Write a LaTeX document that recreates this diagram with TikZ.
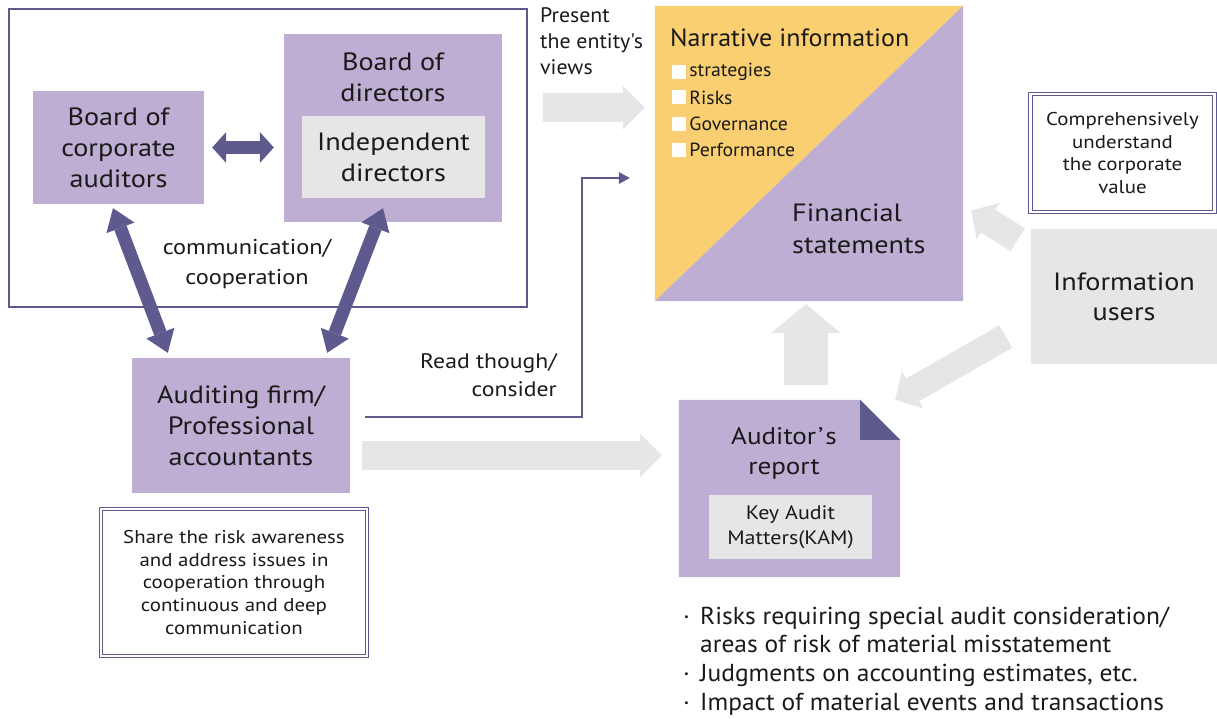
\documentclass[tikz,border=0pt]{standalone}
\usepackage{fontspec}
\setmainfont{PT Sans}[FakeStretch=1.13]
\newfontfamily\tightfont{PT Sans}[FakeStretch=1.04]
\usetikzlibrary{arrows.meta,calc}
\definecolor{lav}{HTML}{BFAED3}
\definecolor{dpur}{HTML}{5E5A8D}
\definecolor{lgray}{HTML}{E6E6E6}
\definecolor{ylw}{HTML}{F9CF72}
\definecolor{ink}{HTML}{1A1A1A}
\newcommand{\myfs}[2]{\fontsize{#1}{#2}\selectfont}
\begin{document}
\begin{tikzpicture}[x=1pt,y=-1pt,
  every node/.style={text=ink},
  box/.style={inner sep=0pt, align=center},
  lavbox/.style={box, fill=lav},
  graybox/.style={box, fill=lgray},
  dblbox/.style={box, draw=dpur, line width=0.9pt, double=white, double distance=2.6pt},
  big/.style={font=\myfs{25}{31}},
  small/.style={font=\myfs{18.5}{22.8}},
  garrow/.style={draw=lgray, -{Triangle[width=44pt,length=22pt,line width=0pt]}, line width=29pt},
  parrow/.style={draw=dpur, {Triangle[width=31pt,length=14pt,line width=0pt]}-{Triangle[width=31pt,length=14pt,line width=0pt]}, line width=12.5pt},
  darrow/.style={draw=dpur, {Triangle[width=30pt,length=21pt,line width=0pt]}-{Triangle[width=30pt,length=21pt,line width=0pt]}, line width=13pt},
  tarrow/.style={draw=dpur, line width=2pt, -{Triangle[width=12pt,length=11pt,line width=0pt]}},
  sq/.style={fill=white, minimum size=14pt, inner sep=0pt},
  item/.style={font=\tightfont\myfs{19}{24}, anchor=west, inner sep=0pt}
]
\useasboundingbox (0,0) rectangle (1217,719);

% ---------- left group ----------
\node[draw=dpur, line width=1.1pt, minimum width=518pt, minimum height=298pt, inner sep=0pt] (frame) at (268,158) {};
\node[lavbox, big, minimum width=171pt, minimum height=113pt] (aud) at (118.5,147.5) {Board of\\corporate\\auditors};
\node[lavbox, minimum width=218pt, minimum height=188pt] (dir) at (393,128) {};
\node[box, big] (dirt) at (393,77) {Board of\\directors};
\node[graybox, big, minimum width=183pt, minimum height=82pt] (ind) at (393.5,157) {Independent\\directors};
\node[box, font=\myfs{21.5}{30}] (comm) at (247,264) {communication/\\cooperation};
\node[lavbox, big, minimum width=218pt, minimum height=135pt] (firm) at (241,425.5) {Auditing firm/\\Professional\\accountants};
\node[dblbox, small, minimum width=266pt, minimum height=147pt] (share) at (234,582.5) {Share the risk awareness\\and address issues in\\cooperation through\\continuous and deep\\communication};

\draw[parrow] ($(aud.east)+(8,0)$) -- ($(dir.west |- aud.east)+(-10,0)$);
\draw[darrow] ($(aud.south)+(-5.5,4)$) -- ($(firm.north west)+(36,-5)$);
\draw[darrow] ($(dir.south)+(-10,-14)$) -- ($(firm.north east)+(-23,-5)$);

% ---------- narrative / financial square ----------
\node[minimum width=308pt, minimum height=295pt, inner sep=0pt] (narr) at (809,153.5) {};
\fill[ylw] (narr.south west) -- (narr.north west) -- (narr.north east) -- cycle;
\fill[lav] (narr.south west) -- (narr.north east) -- (narr.south east) -- cycle;
\node[box, anchor=west, font=\tightfont\myfs{25}{30}] (ntitle) at (670,38) {Narrative information};
\node[sq] (b1) at (679,72) {};
\node[sq] (b2) at (679,97.5) {};
\node[sq] (b3) at (679,124) {};
\node[sq] (b4) at (679,150) {};
\node[item] (i1) at ($(b1.east)+(3,0)$) {strategies};
\node[item] (i2) at ($(b2.east)+(3,0)$) {Risks};
\node[item] (i3) at ($(b3.east)+(3,0)$) {Governance};
\node[item] (i4) at ($(b4.east)+(3,0)$) {Performance};
\node[box, anchor=west, align=left, font=\myfs{25}{32}] (fin) at (792,229) {Financial\\statements};

\node[box, anchor=west, align=left, font=\tightfont\myfs{21}{26}] (pres) at (540,41) {Present\\the entity's\\views};
\coordinate (p0) at (543,107.5);
\draw[garrow] (p0) -- ($(narr.west |- p0)+(-10,0)$);

% ---------- read through arrow ----------
\node[box, anchor=east, align=right, font=\myfs{21}{28}] (read) at (557,375) {Read though/\\consider};
\coordinate (t0) at ($(firm.east)+(15,-8.5)$);
\coordinate (t1) at (582,178);
\draw[tarrow] (t0) -| (t1) -- ($(narr.west |- t1)+(-25,0)$);

% ---------- auditor's report ----------
\node[minimum width=221pt, minimum height=177pt, inner sep=0pt] (rep) at (789.5,488.5) {};
\fill[lav] (rep.south west) -- (rep.north west) -- ($(rep.north east)+(-40,0)$) -- ($(rep.north east)+(0,40)$) -- (rep.south east) -- cycle;
\fill[dpur] ($(rep.north east)+(-40,0)$) -- ($(rep.north east)+(-40,40)$) -- ($(rep.north east)+(0,40)$) -- cycle;
\node[box, font=\myfs{24}{30}] (rept) at (784,453) {Auditor\kern2pt’\kern2pt s\\report};
\node[graybox, font=\myfs{19.5}{25}, minimum width=163pt, minimum height=64pt] (kam) at (790.5,527) {Key Audit\\Matters(KAM)};

\coordinate (g2s) at (362,455.5);
\draw[garrow] (g2s) -- ($(rep.west |- g2s)+(-17,0)$);
\draw[garrow, line width=44pt, -{Triangle[width=70pt,length=29pt,line width=0pt]}] ($(rep.north)+(16.5,-15)$) -- ($(narr.south)+(-3,3)$);

% ---------- information users ----------
\node[graybox, font=\myfs{25}{30}, minimum width=186pt, minimum height=135pt] (info) at (1124,296.5) {Information\\users};
\node[dblbox, small, minimum width=184pt, minimum height=118pt] (comp) at (1122.5,153) {Comprehensively\\understand\\the corporate\\value};
\draw[garrow, line width=27pt, -{Triangle[width=43pt,length=20pt,line width=0pt]}] ($(info.north west)+(-13,11)$) -- ($(narr.east)+(8,57)$);
\draw[garrow, line width=26pt, -{Triangle[width=43pt,length=20pt,line width=0pt]}] ($(info.west)+(-25,40)$) -- ($(rep.north east)+(-5,0)$);

% ---------- bullet list ----------
\node[box, anchor=west, align=left, font=\tightfont\myfs{24.5}{28.7}] (kl) at (683,661) {\makebox[17pt][l]{·}Risks requiring special audit consideration/\\\hspace*{17pt}areas of risk of material misstatement\\\makebox[17pt][l]{·}Judgments on accounting estimates, etc.\\\makebox[17pt][l]{·}Impact of material events and transactions};
\end{tikzpicture}
\end{document}
